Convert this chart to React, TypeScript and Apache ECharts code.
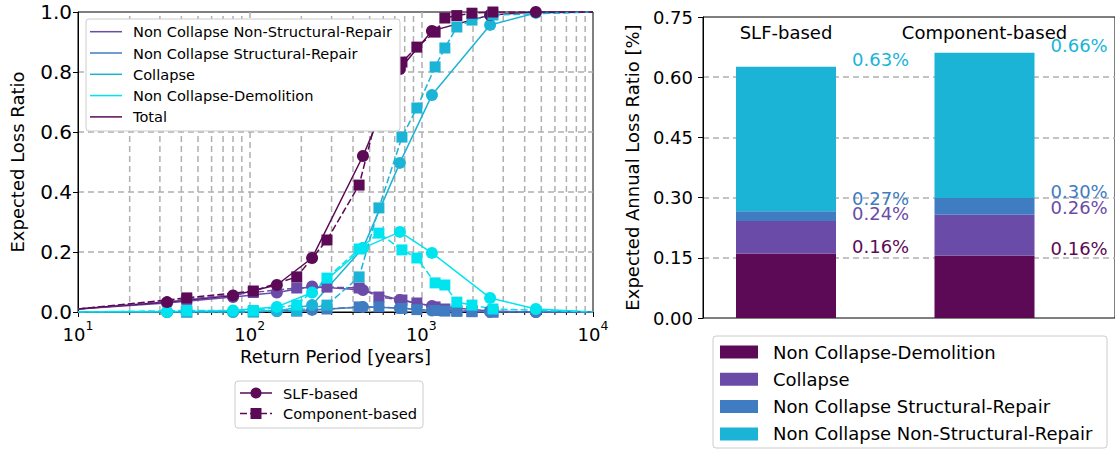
import React, { useEffect, useRef } from "react";
import * as echarts from "echarts";

// ---------- Left panel: loss curves ----------
const SLF_RP = [10, 33, 80, 144, 231, 457, 750, 1153, 2515, 4645, 10000];
const SLF_NS = [0.01, 0.03, 0.05, 0.065, 0.085, 0.073, 0.04, 0.02, 0.003, 0.0, 0.0];
const SLF_S = [0, 0, 0.001, 0.003, 0.007, 0.017, 0.013, 0.005, 0.001, 0, 0];
const SLF_COL = [0, 0, 0, 0.003, 0.023, 0.213, 0.497, 0.723, 0.957, 0.997, 1.0];
const SLF_DEM = [0, 0.001, 0.005, 0.017, 0.065, 0.213, 0.267, 0.197, 0.047, 0.01, 0.0];
const SLF_TOT = [0.01, 0.033, 0.055, 0.09, 0.18, 0.52, 0.81, 0.937, 0.99, 1.0, 1.0];

const COMP_RP = [10, 43, 105, 188, 282, 434, 566, 771, 942, 1203, 1371, 1610, 1972, 2612, 10000];
const COMP_NS = [0.01, 0.042, 0.065, 0.08, 0.083, 0.08, 0.05, 0.04, 0.03, 0.017, 0.01, 0.005, 0.002, 0, 0];
const COMP_S = [0, 0, 0.001, 0.003, 0.01, 0.017, 0.017, 0.012, 0.008, 0.005, 0.003, 0.002, 0.001, 0, 0];
const COMP_COL = [0, 0, 0, 0.005, 0.023, 0.117, 0.347, 0.583, 0.68, 0.817, 0.88, 0.95, 0.973, 0.99, 1.0];
const COMP_DEM = [0, 0.005, 0.005, 0.023, 0.113, 0.21, 0.263, 0.207, 0.18, 0.097, 0.09, 0.033, 0.023, 0.01, 0.0];
const COMP_TOT = [0.01, 0.047, 0.07, 0.117, 0.24, 0.423, 0.68, 0.833, 0.883, 0.933, 0.98, 0.988, 0.996, 1.0, 1.0];

const LINE_NAMES = [
  "Non Collapse Non-Structural-Repair",
  "Non Collapse Structural-Repair",
  "Collapse",
  "Non Collapse-Demolition",
  "Total",
];
const METHOD_NAMES = ["SLF-based", "Component-based"];
const MINOR_X = [20, 30, 40, 50, 60, 70, 80, 90, 200, 300, 400, 500, 600, 700, 800, 900, 2000, 3000, 4000, 5000, 6000, 7000, 8000, 9000];

// ---------- Right panel: EAL bars ----------
const BAR_NAMES = [
  "Non Collapse-Demolition",
  "Collapse",
  "Non Collapse Structural-Repair",
  "Non Collapse Non-Structural-Repair",
];
const BAR_DEM = [0.161, 0.156];
const BAR_COL = [0.081, 0.101];
const BAR_STR = [0.024, 0.042];
const BAR_NS = [0.36, 0.362];

const FONT = "DejaVu Sans";
const LINE_COLORS = ["#6b4ba8", "#3f7cc1", "#1bb4d7", "#00e4f0", "#5c0a56"];
const BAR_COLORS = ["#5c0a56", "#6b4ba8", "#3f7cc1", "#1bb4d7"];
const GRID_LINE = { type: [6, 4] as any, color: "#b0b0b0", width: 1.5 };
const BAR_PLOT_H = 301;
const BAR_Y_MAX = 0.75;

function buildOption() {
  const slfSets = [SLF_NS, SLF_S, SLF_COL, SLF_DEM, SLF_TOT];
  const compSets = [COMP_NS, COMP_S, COMP_COL, COMP_DEM, COMP_TOT];

  const lineSeries = (rp: number[], vals: number[], color: string, symbol: string, dashed: boolean, name: string) => ({
    type: "line",
    name,
    xAxisIndex: 0,
    yAxisIndex: 0,
    data: rp.map((x, i) =>
      i === 0 || i === rp.length - 1 ? { value: [x, vals[i]], symbol: "none" } : [x, vals[i]]
    ),
    symbol,
    symbolSize: symbol === "circle" ? 12 : 11,
    showSymbol: true,
    showAllSymbol: true,
    lineStyle: { color, width: 1.5, type: dashed ? [7, 3] : "solid" },
    itemStyle: { color, borderWidth: 0 },
    z: 2,
    silent: true,
  });

  const series: any[] = [];
  series.push({
    type: "custom",
    xAxisIndex: 0,
    yAxisIndex: 0,
    data: MINOR_X.map((v) => [v, 0]),
    z: 1,
    silent: true,
    clip: false,
    renderItem: (_p: any, api: any) => {
      const x = api.value(0);
      const b = api.coord([x, 0]);
      const t = api.coord([x, 1]);
      return {
        type: "group",
        children: [
          { type: "line", shape: { x1: b[0], y1: b[1], x2: t[0], y2: t[1] }, style: { stroke: "#b0b0b0", lineWidth: 1.5, lineDash: [6, 4] } },
          { type: "line", shape: { x1: b[0], y1: b[1], x2: b[0], y2: b[1] + 3 }, style: { stroke: "#000", lineWidth: 1 } },
        ],
      };
    },
  });
  slfSets.forEach((vals, k) => series.push(lineSeries(SLF_RP, vals, LINE_COLORS[k], "circle", false, "SLF " + LINE_NAMES[k])));
  compSets.forEach((vals, k) => series.push(lineSeries(COMP_RP, vals, LINE_COLORS[k], "rect", true, "Comp " + LINE_NAMES[k])));

  const barSets = [BAR_DEM, BAR_COL, BAR_STR, BAR_NS];
  const cum = barSets.map((_, k) => METHOD_NAMES.map((_, i) => barSets.slice(0, k + 1).reduce((s, a) => s + a[i], 0)));
  const pxPerUnit = BAR_PLOT_H / BAR_Y_MAX;
  barSets.forEach((vals, k) => {
    series.push({
      type: "bar",
      name: BAR_NAMES[k],
      xAxisIndex: 2,
      yAxisIndex: 2,
      stack: "eal",
      barWidth: 100,
      data: vals.map((v, i) => {
        const gap = k > 0 ? (cum[k][i] - cum[k - 1][i]) * pxPerUnit : 99;
        const dy = gap < 15 ? -7 - (16 - gap) * 0.85 : -7;
        return { value: v, label: { position: [116, dy] } };
      }),
      itemStyle: { color: BAR_COLORS[k] },
      label: {
        show: true,
        position: [116, -7],
        align: "left",
        verticalAlign: "middle",
        color: BAR_COLORS[k],
        fontSize: 18,
        fontFamily: FONT,
        formatter: (p: any) => cum[k][p.dataIndex].toFixed(2) + "%",
      },
      silent: true,
    });
  });

  // ---------- legends (graphic) ----------
  const g: any[] = [];
  g.push({ type: "rect", shape: { x: 86, y: 19, width: 314, height: 112, r: 3 }, style: { fill: "#fff", stroke: "#cccccc", lineWidth: 1 }, z: 50 });
  LINE_NAMES.forEach((n, k) => {
    const y = 31.7 + k * 21.3;
    g.push({ type: "line", shape: { x1: 90, y1: y, x2: 122, y2: y }, style: { stroke: LINE_COLORS[k], lineWidth: 1.5 }, z: 51 });
    g.push({ type: "text", x: 133, y, style: { text: n, fontSize: 14.6, fontFamily: FONT, fill: "#000", verticalAlign: "middle", align: "left" }, z: 51 });
  });
  g.push({ type: "rect", shape: { x: 235, y: 381, width: 188, height: 47, r: 3 }, style: { fill: "#fff", stroke: "#cccccc", lineWidth: 1 }, z: 50 });
  METHOD_NAMES.forEach((n, k) => {
    const y = 393 + k * 20.5;
    const c = LINE_COLORS[4];
    g.push({ type: "line", shape: { x1: 240, y1: y, x2: 272, y2: y }, style: { stroke: c, lineWidth: 1.5, lineDash: k === 1 ? [7, 3] : null }, z: 51 });
    if (k === 0) g.push({ type: "circle", shape: { cx: 256, cy: y, r: 5.5 }, style: { fill: c }, z: 52 });
    else g.push({ type: "rect", shape: { x: 250.5, y: y - 5.5, width: 11, height: 11 }, style: { fill: c }, z: 52 });
    g.push({ type: "text", x: 283, y, style: { text: n, fontSize: 14.6, fontFamily: FONT, fill: "#000", verticalAlign: "middle", align: "left" }, z: 51 });
  });
  g.push({ type: "rect", shape: { x: 713, y: 336, width: 394, height: 112, r: 3 }, style: { fill: "#fff", stroke: "#cccccc", lineWidth: 1 }, z: 50 });
  BAR_NAMES.forEach((n, k) => {
    const y = 352 + k * 27.3;
    g.push({ type: "rect", shape: { x: 720, y: y - 6.5, width: 38, height: 13 }, style: { fill: BAR_COLORS[k] }, z: 51 });
    g.push({ type: "text", x: 773, y, style: { text: n, fontSize: 18, fontFamily: FONT, fill: "#000", verticalAlign: "middle", align: "left" }, z: 51 });
  });

  const axisText = { fontSize: 18, color: "#000", fontFamily: FONT };

  return {
    animation: false,
    backgroundColor: "#fff",
    textStyle: { fontFamily: FONT },
    grid: [
      { left: 78, top: 12, width: 515, height: 300, show: true, borderColor: "#000", borderWidth: 1, backgroundColor: "transparent" },
      { left: 703, top: 17, width: 417, height: BAR_PLOT_H, show: true, borderColor: "#000", borderWidth: 1, backgroundColor: "transparent" },
      { left: 686.75, top: 17, width: 397, height: BAR_PLOT_H, show: false },
    ],
    xAxis: [
      {
        type: "log",
        logBase: 10,
        min: 10,
        max: 10000,
        splitNumber: 3,
        gridIndex: 0,
        name: "Return Period [years]",
        nameLocation: "middle",
        nameGap: 35,
        nameTextStyle: axisText,
        axisLine: { show: true, lineStyle: { color: "#000", width: 1 } },
        axisTick: { show: true, length: 5, lineStyle: { color: "#000" } },
        axisLabel: {
          margin: 7,
          formatter: (v: number) => `{b|10}{s|${Math.round(Math.log10(v))}}`,
          rich: {
            b: { fontSize: 18, lineHeight: 24, verticalAlign: "bottom", color: "#000", fontFamily: FONT },
            s: { fontSize: 12.5, lineHeight: 12, verticalAlign: "top", color: "#000", fontFamily: FONT },
          },
        },
        splitLine: { show: true, showMinLine: false, showMaxLine: false, lineStyle: GRID_LINE },
      },
      { type: "value", gridIndex: 1, min: 0, max: 1, show: false },
      {
        type: "category",
        gridIndex: 2,
        data: METHOD_NAMES,
        position: "top",
        axisLine: { show: false },
        axisTick: { show: false },
        axisLabel: { inside: true, margin: 6, interval: 0, hideOverlap: false, ...axisText },
        splitLine: { show: false },
      },
    ],
    yAxis: [
      {
        type: "value",
        gridIndex: 0,
        min: 0,
        max: 1,
        interval: 0.2,
        name: "Expected Loss Ratio",
        nameLocation: "middle",
        nameGap: 52,
        nameTextStyle: axisText,
        axisLine: { show: true, onZero: false, lineStyle: { color: "#000", width: 1 } },
        axisTick: { show: true, length: 5, lineStyle: { color: "#000" } },
        axisLabel: { ...axisText, fontSize: 20, margin: 6, formatter: (v: number) => v.toFixed(1) },
        splitLine: { show: true, showMinLine: false, showMaxLine: false, lineStyle: GRID_LINE },
      },
      {
        type: "value",
        gridIndex: 1,
        min: 0,
        max: BAR_Y_MAX,
        interval: 0.15,
        name: "Expected Annual Loss Ratio [%]",
        nameLocation: "middle",
        nameGap: 62,
        nameTextStyle: axisText,
        axisLine: { show: true, onZero: false, lineStyle: { color: "#000", width: 1 } },
        axisTick: { show: true, length: 5, lineStyle: { color: "#000" } },
        axisLabel: { ...axisText, margin: 10, formatter: (v: number) => v.toFixed(2) },
        splitLine: { show: true, showMinLine: false, showMaxLine: false, lineStyle: GRID_LINE },
      },
      { type: "value", gridIndex: 2, min: 0, max: BAR_Y_MAX, show: false },
    ],
    series,
    graphic: g,
  };
}

export default function App() {
  const ref = useRef<HTMLDivElement>(null);
  useEffect(() => {
    const chart = echarts.init(ref.current!, null, { renderer: "svg" });
    chart.setOption(buildOption() as any);
    return () => chart.dispose();
  }, []);
  return (
    <div
      ref={ref}
      style={{ position: "fixed", left: 0, top: 0, width: 1115, height: 450, background: "#fff" }}
    />
  );
}
